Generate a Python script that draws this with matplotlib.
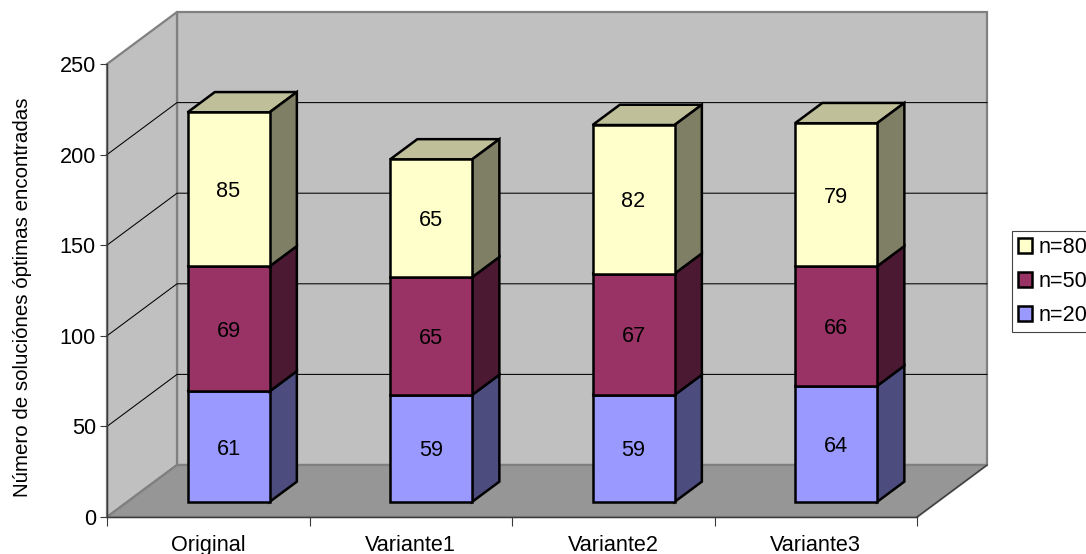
import matplotlib
matplotlib.use("Agg")
import matplotlib.pyplot as plt
from matplotlib.patches import Polygon, Patch

plt.rcParams['font.family'] = ['Liberation Sans', 'DejaVu Sans']

# Chart data
categories = ['Original', 'Variante1', 'Variante2', 'Variante3']
n20 = [61, 59, 59, 64]
n50 = [69, 65, 67, 66]
n80 = [85, 65, 82, 79]
series_names = ['n=20', 'n=50', 'n=80']
y_ticks = [0, 50, 100, 150, 200, 250]
y_label = 'Número de soluciónes óptimas encontradas'

# Face, top and side colours for each series
faces = ['#9999FF', '#993366', '#FFFFCC']
tops = ['#7373BF', '#73264D', '#BFBF99']
sides = ['#4C4C7F', '#4C1933', '#7F7F66']

FONT = 15.6
W, H = 1086, 554
LEFT, RIGHT, TOP, BOTTOM = 107, 917, 64, 517

fig = plt.figure(figsize=(W / 100, H / 100), dpi=100)
ax = fig.add_axes([LEFT / W, (H - BOTTOM) / H, (RIGHT - LEFT) / W, (BOTTOM - TOP) / H])
ax.set_xlim(-0.5, 3.5)
ax.set_ylim(0, 250)
ax.patch.set_visible(False)

# Oblique projection: full depth moves 70 px right and 52 px up
DX = 70 / ((RIGHT - LEFT) / 4)
DY = 52 / ((BOTTOM - TOP) / 250)


def proj(x, y, d):
    return (x + d * DX, y + d * DY)


def poly(points, face, edge='none', lw=0, z=1):
    ax.add_patch(Polygon(points, closed=True, facecolor=face, edgecolor=edge,
                         linewidth=lw, zorder=z, clip_on=False, joinstyle='miter'))


x0, x1 = -0.5, 3.5
y0, y1 = 0, 250
GREY = '#808080'

# Walls and floor
poly([proj(x0, y0, 1), proj(x1, y0, 1), proj(x1, y1, 1), proj(x0, y1, 1)], '#C0C0C0', GREY, 1.6)
poly([proj(x0, y0, 0), proj(x0, y0, 1), proj(x0, y1, 1), proj(x0, y1, 0)], '#C0C0C0', GREY, 1.6)
poly([proj(x0, y0, 0), proj(x1, y0, 0), proj(x1, y0, 1), proj(x0, y0, 1)], '#969696', GREY, 1.6)

# Floor edge on the right is thin and dark
ax.plot(*zip(proj(x1, y0, 0), proj(x1, y0, 1)), color='#333333', lw=0.8, zorder=1.5, clip_on=False)

# Gridlines along side wall and back wall
for tick in y_ticks[1:-1]:
    pts = [proj(x0, tick, 0), proj(x0, tick, 1), proj(x1, tick, 1)]
    ax.plot(*zip(*pts), color='black', lw=0.75, zorder=1.5, clip_on=False)

# Stacked 3D bars
HALF = 0.2025
D_FRONT, D_BACK = 0.29, 0.68
for i in range(len(categories)):
    base = 0
    stack = [n20[i], n50[i], n80[i]]
    for s, val in enumerate(stack):
        top = base + val
        a, b = i - HALF, i + HALF
        # shift the whole box from the front plane onto its depth slot
        poly([proj(a, top, D_FRONT), proj(b, top, D_FRONT), proj(b, top, D_BACK), proj(a, top, D_BACK)],
             tops[s], 'black', 1.8, 3)
        poly([proj(b, base, D_FRONT), proj(b, base, D_BACK), proj(b, top, D_BACK), proj(b, top, D_FRONT)],
             sides[s], 'black', 1.8, 3)
        poly([proj(a, base, D_FRONT), proj(b, base, D_FRONT), proj(b, top, D_FRONT), proj(a, top, D_FRONT)],
             faces[s], 'black', 1.8, 3)
        cx, cy = proj(i, base + val / 2, D_FRONT)
        ax.text(cx, cy, str(val), ha='center', va='center_baseline', fontsize=FONT, color='black', zorder=4)
        base = top

# Axes: boundary ticks along the bottom, category names in between
for name in ['top', 'right']:
    ax.spines[name].set_visible(False)
for name in ['left', 'bottom']:
    ax.spines[name].set_linewidth(1.0)
    ax.spines[name].set_color('#3a3a3a')
ax.set_yticks(y_ticks)
ax.tick_params(axis='y', length=5, width=0.8, pad=3, labelsize=FONT, color='#3a3a3a')
ax.set_xticks([-0.5, 0.5, 1.5, 2.5, 3.5])
ax.set_xticklabels([])
ax.set_xticks(range(len(categories)), labels=categories, minor=True)
ax.tick_params(axis='x', which='major', length=6.5, width=0.8, color='#3a3a3a')
ax.tick_params(axis='x', which='minor', length=0, pad=13, labelsize=FONT)
ax.set_ylabel(y_label, fontsize=14.8, va='center')
ax.yaxis.set_label_coords(-84 / (RIGHT - LEFT), (BOTTOM - 297) / (BOTTOM - TOP), transform=ax.transAxes)

# Legend runs in reverse stacking order and is cut by the canvas edge
handles = [Patch(facecolor=faces[s], edgecolor='black', linewidth=1.8, label=series_names[s]) for s in (2, 1, 0)]
leg = fig.legend(handles=handles, loc='upper left', bbox_to_anchor=(1012 / W, 1 - 231 / H),
                 bbox_transform=fig.transFigure, fontsize=FONT, frameon=True, fancybox=False,
                 edgecolor='#444444', framealpha=1, handlelength=0.64, handleheight=0.64,
                 handletextpad=0.3, labelspacing=0.6, borderpad=0.28, borderaxespad=0)
leg.get_frame().set_linewidth(0.8)

fig.savefig('out.png', dpi=100)
